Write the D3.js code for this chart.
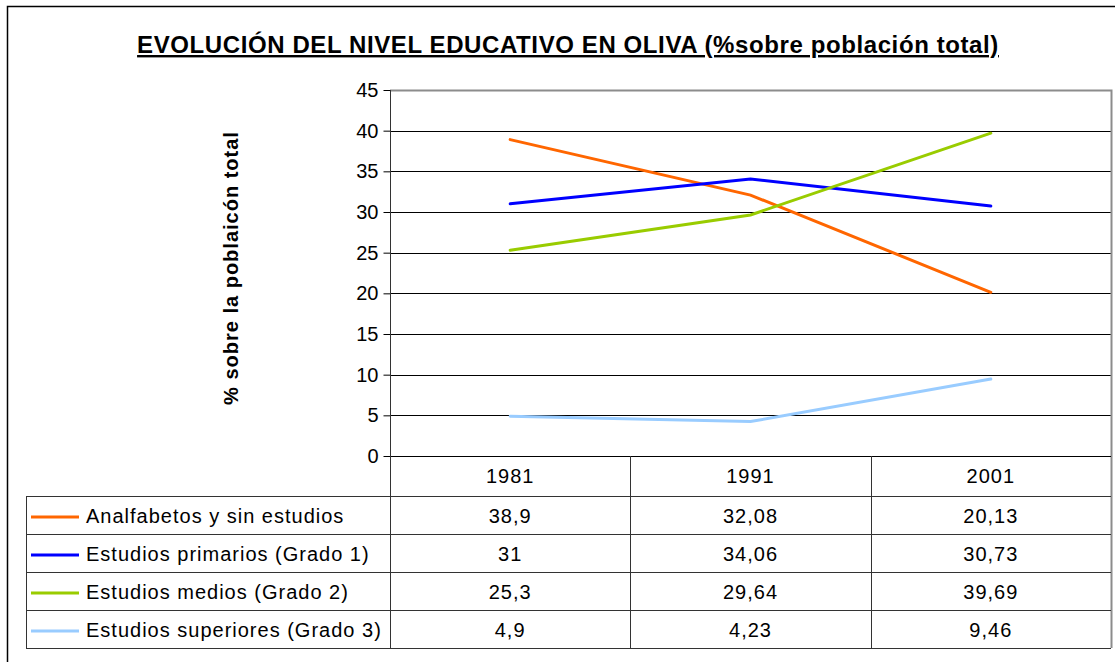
<!DOCTYPE html>
<html>
<head>
<meta charset="utf-8">
<script src="https://cdn.jsdelivr.net/npm/d3@7"></script>
<style>
  body { margin: 0; background: #fff; }
  text { font-family: "Liberation Sans", Arial, sans-serif; fill: #000; }
</style>
</head>
<body>
<script>
var years = ["1981", "1991", "2001"];
var seriesNames = [
    "Analfabetos y sin estudios",
    "Estudios primarios (Grado 1)",
    "Estudios medios (Grado 2)",
    "Estudios superiores (Grado 3)"
];
var analfabetos = [38.9, 32.08, 20.13];
var primarios = [31, 34.06, 30.73];
var medios = [25.3, 29.64, 39.69];
var superiores = [4.9, 4.23, 9.46];
var seriesColors = ["#ff6600", "#0000ff", "#99cc00", "#99ccff"];
var yTicks = [0, 5, 10, 15, 20, 25, 30, 35, 40, 45];

var series = [analfabetos, primarios, medios, superiores].map(function (v, i) {
    return { name: seriesNames[i], values: v, color: seriesColors[i] };
});

var width = 1115, height = 662;
var plotLeft = 390, plotRight = 1111, plotTop = 90, plotBottom = 456;
var rowH = 38, headH = 40, tableLeft = 26;

var fmt = function (v) { return String(v).replace(".", ","); };

var svg = d3.select("body").append("svg")
    .attr("width", width)
    .attr("height", height);

// outer frame
svg.append("rect")
    .attr("x", 7.5).attr("y", 6.5)
    .attr("width", 1120).attr("height", 670)
    .attr("fill", "none").attr("stroke", "#000").attr("stroke-width", 1.5);

var x = d3.scaleBand().domain(years).range([plotLeft, plotRight]);
var y = d3.scaleLinear().domain([0, 45]).range([plotBottom, plotTop]);

// gridlines
svg.append("g").selectAll("line")
    .data(yTicks.slice(1, -1))
    .enter().append("line")
    .attr("x1", plotLeft).attr("x2", plotRight)
    .attr("y1", function (d) { return Math.round(y(d)) + 0.5; })
    .attr("y2", function (d) { return Math.round(y(d)) + 0.5; })
    .attr("stroke", "#000").attr("stroke-width", 1);

var tableBottom = plotBottom + headH + rowH * 4;

// plot border (top + right)
svg.append("path")
    .attr("d", "M" + plotLeft + "," + (plotTop + 0.5) + "H" + (plotRight + 0.5) + "V" + tableBottom)
    .attr("fill", "none").attr("stroke", "#8c8c8c").attr("stroke-width", 2);

// y axis
var yAxis = svg.append("g")
    .attr("transform", "translate(" + (plotLeft + 0.5) + ",0)")
    .call(d3.axisLeft(y).tickValues(yTicks).tickSize(7).tickPadding(5));
yAxis.select(".domain").remove();
yAxis.selectAll(".tick line").attr("stroke", "#000");
yAxis.selectAll(".tick text")
    .style("font-family", "Liberation Sans, Arial, sans-serif")
    .style("font-size", "20px").attr("fill", "#000");

svg.append("text")
    .attr("transform", "translate(238,268) rotate(-90)")
    .attr("text-anchor", "middle")
    .style("font-size", "20px").style("font-weight", "bold")
    .style("letter-spacing", "1px")
    .text("% sobre la poblaicón total");

// data table
var tbl = svg.append("g").attr("stroke", "#333").attr("stroke-width", 1).attr("fill", "none");
tbl.append("line").attr("x1", plotLeft).attr("x2", plotRight)
    .attr("y1", plotBottom + 0.5).attr("y2", plotBottom + 0.5).attr("stroke", "#000");
d3.range(5).forEach(function (i) {
    var yy = plotBottom + headH + rowH * i + 0.5;
    tbl.append("line").attr("x1", tableLeft).attr("x2", plotRight).attr("y1", yy).attr("y2", yy);
});
tbl.append("line").attr("x1", tableLeft + 0.5).attr("x2", tableLeft + 0.5)
    .attr("y1", plotBottom + headH).attr("y2", tableBottom);
years.forEach(function (yr, i) {
    var xx = Math.round(x(yr)) + 0.5;
    tbl.append("line").attr("x1", xx).attr("x2", xx)
        .attr("y1", i === 0 ? plotTop : plotBottom).attr("y2", tableBottom);
});

svg.append("g").selectAll("text")
    .data(years).enter().append("text")
    .attr("x", function (d) { return x(d) + x.bandwidth() / 2; })
    .attr("y", plotBottom + headH / 2 + 7)
    .attr("text-anchor", "middle")
    .style("font-size", "20px").style("letter-spacing", "1px")
    .text(function (d) { return d; });

var rows = svg.append("g").selectAll("g")
    .data(series).enter().append("g")
    .attr("transform", function (d, i) { return "translate(0," + (plotBottom + headH + rowH * i) + ")"; });

rows.append("line")
    .attr("x1", 31).attr("x2", 79)
    .attr("y1", rowH / 2 + 2).attr("y2", rowH / 2 + 2)
    .attr("stroke", function (d) { return d.color; })
    .attr("stroke-width", 3);

rows.append("text")
    .attr("x", 86).attr("y", rowH / 2 + 8)
    .style("font-size", "20px").style("letter-spacing", "1px")
    .text(function (d) { return d.name; });

rows.selectAll(".val")
    .data(function (d) { return d.values; })
    .enter().append("text")
    .attr("class", "val")
    .attr("x", function (d, i) { return x(years[i]) + x.bandwidth() / 2; })
    .attr("y", rowH / 2 + 8)
    .attr("text-anchor", "middle")
    .style("font-size", "20px").style("letter-spacing", "1px")
    .text(function (d) { return fmt(d); });

// series lines
var line = d3.line()
    .x(function (d, i) { return x(years[i]) + x.bandwidth() / 2; })
    .y(function (d) { return y(d); });

svg.append("g").selectAll("path")
    .data(series).enter().append("path")
    .attr("d", function (d) { return line(d.values); })
    .attr("fill", "none")
    .attr("stroke", function (d) { return d.color; })
    .attr("stroke-width", 3)
    .attr("stroke-linecap", "round");

// title
svg.append("text")
    .attr("x", 568).attr("y", 53)
    .attr("text-anchor", "middle")
    .style("font-size", "24px").style("font-weight", "bold")
    .style("letter-spacing", "0.6px")
    .style("text-decoration", "underline")
    .text("EVOLUCIÓN DEL NIVEL EDUCATIVO EN OLIVA (%sobre población total)");
</script>
</body>
</html>
